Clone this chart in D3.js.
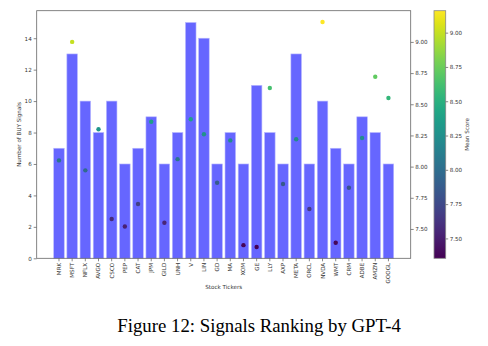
<!DOCTYPE html>
<html>
<head>
<meta charset="utf-8">
<script src="https://cdn.jsdelivr.net/npm/d3@7"></script>
<style>
  body { margin: 0; background: #fff; }
  svg { display: block; }
  text { font-family: "DejaVu Sans", sans-serif; fill: #333; }
</style>
</head>
<body>
<div id="chart"></div>
<script>
// data
const tickers = ["MRK","MSFT","NFLX","AVGO","CSCO","PEP","CAT","JPM","GILD","UNH","V","LIN","GD","MA","XOM","GE","LLY","AXP","META","ORCL","NVDA","WMT","CRM","ADBE","AMZN","GOOGL"];
const buySignals = [7,13,10,8,10,6,7,9,6,8,15,14,6,8,6,11,8,6,13,6,10,7,6,9,8,6];
const meanScores = [8.05,9.00,7.97,8.30,7.58,7.52,7.70,8.36,7.55,8.06,8.38,8.26,7.87,8.21,7.37,7.355,8.63,7.86,8.22,7.66,9.16,7.39,7.83,8.23,8.72,8.55];
const leftTicks = [0,2,4,6,8,10,12,14];
const rightTicks = [7.5,7.75,8.0,8.25,8.5,8.75,9.0];

const W = 488, H = 346;
const plot = {left: 36.7, right: 410.7, top: 10.7, bottom: 258.3};
const cbar = {left: 434, right: 445.7};

const svg = d3.select("#chart").append("svg")
    .attr("width", W)
    .attr("height", H);

// scales
const x = d3.scaleBand()
    .domain(tickers)
    .range([plot.left, plot.right])
    .paddingInner(0.2)
    .paddingOuter(1.29);

const yLeft = d3.scaleLinear()
    .domain([0, 15.75])
    .range([plot.bottom, plot.top]);

const sMin = d3.min(meanScores), sMax = d3.max(meanScores);
const sPad = (sMax - sMin) * 0.05;
const yRight = d3.scaleLinear()
    .domain([sMin - sPad, sMax + sPad])
    .range([plot.bottom, plot.top]);

const color = d3.scaleSequential(d3.interpolateViridis).domain([sMin, sMax]);
const yCbar = d3.scaleLinear()
    .domain([sMin, sMax])
    .range([plot.bottom, plot.top]);

// bars
svg.append("g").selectAll("rect")
    .data(buySignals)
    .enter().append("rect")
    .attr("x", (d, i) => x(tickers[i]))
    .attr("width", x.bandwidth())
    .attr("y", d => yLeft(d))
    .attr("height", d => yLeft(0) - yLeft(d))
    .attr("fill", "#6666ff")
    .attr("stroke", "#b8b8ff")
    .attr("stroke-width", 0.6);

// mean score dots
svg.append("g").selectAll("circle")
    .data(meanScores)
    .enter().append("circle")
    .attr("cx", (d, i) => x(tickers[i]) + x.bandwidth() / 2)
    .attr("cy", d => yRight(d))
    .attr("r", 2.2)
    .attr("fill", d => color(d));

// axes
function styleAxis(g) {
    g.selectAll(".domain").remove();
    g.selectAll("line").attr("stroke", "#555").attr("stroke-width", 0.7);
    g.selectAll("text").style("font-size", "5.6px").attr("fill", "#333");
}

svg.append("g")
    .attr("transform", `translate(${plot.left},0)`)
    .call(d3.axisLeft(yLeft).tickValues(leftTicks).tickSize(3).tickPadding(2))
    .call(styleAxis);

svg.append("g")
    .attr("transform", `translate(${plot.right},0)`)
    .call(d3.axisRight(yRight).tickValues(rightTicks).tickFormat(d3.format(".2f")).tickSize(3).tickPadding(1.5))
    .call(styleAxis);

const xAxis = svg.append("g")
    .attr("transform", `translate(0,${plot.bottom})`)
    .call(d3.axisBottom(x).tickSize(3).tickPadding(2))
    .call(styleAxis);
xAxis.selectAll("text")
    .attr("transform", "rotate(-90)")
    .attr("text-anchor", "end")
    .attr("dy", "0.35em")
    .attr("x", -4.5)
    .attr("y", 0);

// plot frame
svg.append("rect")
    .attr("x", plot.left)
    .attr("y", plot.top)
    .attr("width", plot.right - plot.left)
    .attr("height", plot.bottom - plot.top)
    .attr("fill", "none")
    .attr("stroke", "#666")
    .attr("stroke-width", 0.8);

// axis titles
svg.append("text")
    .attr("transform", `translate(20.5,${(plot.top + plot.bottom) / 2}) rotate(-90)`)
    .attr("text-anchor", "middle")
    .style("font-size", "5.6px")
    .text("Number of BUY Signals");

svg.append("text")
    .attr("x", (plot.left + plot.right) / 2)
    .attr("y", 289)
    .attr("text-anchor", "middle")
    .style("font-size", "5.6px")
    .text("Stock Tickers");

// colorbar
const defs = svg.append("defs");
const grad = defs.append("linearGradient")
    .attr("id", "viridis")
    .attr("x1", 0).attr("y1", 1).attr("x2", 0).attr("y2", 0);
d3.range(0, 1.001, 0.05).forEach(t => {
    grad.append("stop")
        .attr("offset", t)
        .attr("stop-color", d3.interpolateViridis(t));
});

svg.append("rect")
    .attr("x", cbar.left)
    .attr("y", plot.top)
    .attr("width", cbar.right - cbar.left)
    .attr("height", plot.bottom - plot.top)
    .attr("fill", "url(#viridis)")
    .attr("stroke", "#888")
    .attr("stroke-width", 0.8);

svg.append("g")
    .attr("transform", `translate(${cbar.right},0)`)
    .call(d3.axisRight(yCbar).tickValues(rightTicks).tickFormat(d3.format(".2f")).tickSize(2.5).tickPadding(1.5))
    .call(styleAxis);

svg.append("text")
    .attr("transform", `translate(468.5,${(plot.top + plot.bottom) / 2}) rotate(-90)`)
    .attr("text-anchor", "middle")
    .style("font-size", "5.6px")
    .text("Mean Score");

// caption
svg.append("text")
    .attr("x", 117.3)
    .attr("y", 331.5)
    .style("font-family", "'Liberation Serif', 'Times New Roman', serif")
    .style("font-size", "18.8px")
    .attr("fill", "#000")
    .style("fill", "#000")
    .text("Figure 12: Signals Ranking by GPT-4");
</script>
</body>
</html>
